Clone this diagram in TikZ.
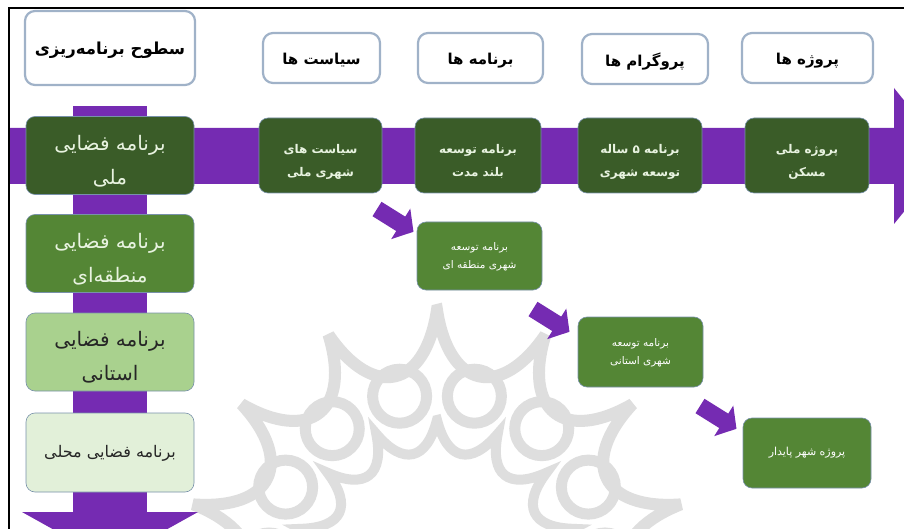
\documentclass[tikz,border=0pt]{standalone}
\usepackage{fontspec}
\newfontfamily\arabicfont[Script=Arabic]{DejaVu Sans}
\TeXXeTstate=1
% content pushed down by half of #1
\newcommand\twoln[3]{\raisebox{0pt}[\dimexpr\height+#1\relax][\depth]{\begin{tabular}{@{}c@{}}#2\\#3\end{tabular}}}
\newcommand\oneln[2]{\raisebox{0pt}[\dimexpr\height+#1\relax][\depth]{#2}}
\definecolor{purp}{RGB}{117,43,178}
\definecolor{gdark}{RGB}{58,92,40}
\definecolor{gmid}{RGB}{84,134,53}
\definecolor{glight}{RGB}{169,209,142}
\definecolor{gpale}{RGB}{226,240,217}
\definecolor{gtext}{RGB}{232,243,224}
\definecolor{hdrline}{RGB}{160,178,200}
\definecolor{gline}{RGB}{120,145,170}
\definecolor{wmgray}{RGB}{222,222,222}
\tikzset{
  hdr/.style={draw=hdrline, line width=2.2pt, fill=white, rounded corners=10pt,
    font=\arabicfont\bfseries\fontsize{15}{18}\selectfont, text=black, inner sep=0pt},
  gbox/.style={draw=gline, line width=0.6pt, rounded corners=9pt, inner sep=0pt},
  leftbox/.style={gbox, minimum width=168pt, font=\arabicfont\fontsize{20}{34}\selectfont},
  rowbox/.style={gbox, fill=gdark, text=gtext, minimum height=75pt,
    font=\arabicfont\bfseries\fontsize{12}{23}\selectfont},
  subbox/.style={gbox, fill=gmid, text=white, minimum width=125pt,
    font=\arabicfont\fontsize{10.5}{18}\selectfont},
  band/.style={fill=purp},
  wm/.style={draw=wmgray, line width=12pt, line join=miter, miter limit=6}
}
\begin{document}
\begin{tikzpicture}[x=1pt,y=-1pt]
\useasboundingbox (0,0) rectangle (904,529);
\clip (0,0) rectangle (904,529);
\fill[white] (0,0) rectangle (904,529);

% watermark
\begin{scope}[shift={(437,560)}, y=1pt]
  \draw[wm] (90:250) \foreach \i in {0,...,13} {
     .. controls ({90-\i*25.714-4}:172) and ({90-(\i+1)*25.714+4}:172) .. ({90-(\i+1)*25.714}:250) } -- cycle;
  \foreach \i in {0,...,13} \draw[wm, line width=11pt] ({90-12.857-\i*25.714}:168) circle (27);
  \draw[wm, line width=10pt] (90:140) \foreach \i in {0,...,13} {
     .. controls ({90-\i*25.714-6}:100) and ({90-(\i+1)*25.714+6}:100) .. ({90-(\i+1)*25.714}:140) } -- cycle;
\end{scope}

% purple bands
\fill[band] (10,128) -- (894,128) -- (894,88) -- (949,156) -- (894,224) -- (894,184) -- (10,184) -- cycle;
\fill[band] (73,106) rectangle (147,513);
\fill[band] (22,512) -- (198,512) -- (110,561) -- cycle;

% frame
\draw[line width=2.5pt] (9,530) -- (9,8) -- (905,8);

% headers
\node[hdr, minimum width=170pt, minimum height=74pt, font=\arabicfont\bfseries\fontsize{16.5}{20}\selectfont] (hL) at (110,48) {\oneln{4pt}{\beginR سطوح برنامه‌ریزی\endR}};
\node[hdr, minimum width=117pt, minimum height=50pt] (hPol) at (321.5,58) {\oneln{5pt}{\beginR سیاست ها\endR}};
\node[hdr, minimum width=125pt, minimum height=50pt] (hPrg) at (480.5,58) {\oneln{5pt}{\beginR برنامه ها\endR}};
\node[hdr, minimum width=126pt, minimum height=50pt] (hPgm) at (645,59) {\oneln{5pt}{\beginR پروگرام ها\endR}};
\node[hdr, minimum width=131pt, minimum height=50pt] (hPrj) at (807.5,58) {\oneln{5pt}{\beginR پروژه ها\endR}};

% left column
\node[leftbox, fill=gdark, text=gtext, minimum height=75pt] (lNat) at (110,155.5) {\twoln{10pt}{\beginR برنامه فضایی\endR}{\beginR ملی\endR}};
\node[leftbox, fill=gmid, text=gtext, minimum height=73pt] (lReg) at (110,253.5) {\twoln{10pt}{\beginR برنامه فضایی\endR}{\beginR منطقه‌ای\endR}};
\node[leftbox, fill=glight, text=black!85, minimum height=76pt] (lPro) at (110,352) {\twoln{10pt}{\beginR برنامه فضایی\endR}{\beginR استانی\endR}};
\node[leftbox, fill=gpale, text=black!85, minimum height=79pt, font=\arabicfont\fontsize{16}{28}\selectfont] (lLoc) at (110,452.5) {\oneln{2pt}{\beginR برنامه فضایی محلی\endR}};

% top row
\node[rowbox, minimum width=123pt] (tPol) at (320.5,155.5) {\twoln{9pt}{\beginR سیاست های\endR}{\beginR شهری ملی\endR}};
\node[rowbox, minimum width=126pt] (tPrg) at (478,155.5) {\twoln{9pt}{\beginR برنامه توسعه\endR}{\beginR بلند مدت\endR}};
\node[rowbox, minimum width=124pt] (tPgm) at (640,155.5) {\twoln{9pt}{\beginR برنامه ۵ ساله\endR}{\beginR توسعه شهری\endR}};
\node[rowbox, minimum width=124pt] (tPrj) at (807,155.5) {\twoln{9pt}{\beginR پروژه ملی\endR}{\beginR مسکن\endR}};

% second level
\node[subbox, minimum height=68pt] (sReg) at (479.5,256) {\twoln{0pt}{\beginR برنامه توسعه\endR}{\beginR شهری منطقه ای\endR}};
\node[subbox, minimum height=70pt] (sPro) at (640.5,352) {\twoln{0pt}{\beginR برنامه توسعه\endR}{\beginR شهری استانی\endR}};
\node[subbox, minimum width=128pt, minimum height=70pt, font=\arabicfont\fontsize{11}{18}\selectfont] (sPrj) at (807,453) {\oneln{0pt}{\beginR پروژه شهر پایدار\endR}};

% small block arrows
\foreach \p in {(377,209),(533,309),(700,406)} {
  \fill[band, shift={\p}, rotate=-32] (0,-8.5) -- (28,-8.5) -- (28,-18) -- (43,0) -- (28,18) -- (28,8.5) -- (0,8.5) -- cycle;
}
\end{tikzpicture}
\end{document}
